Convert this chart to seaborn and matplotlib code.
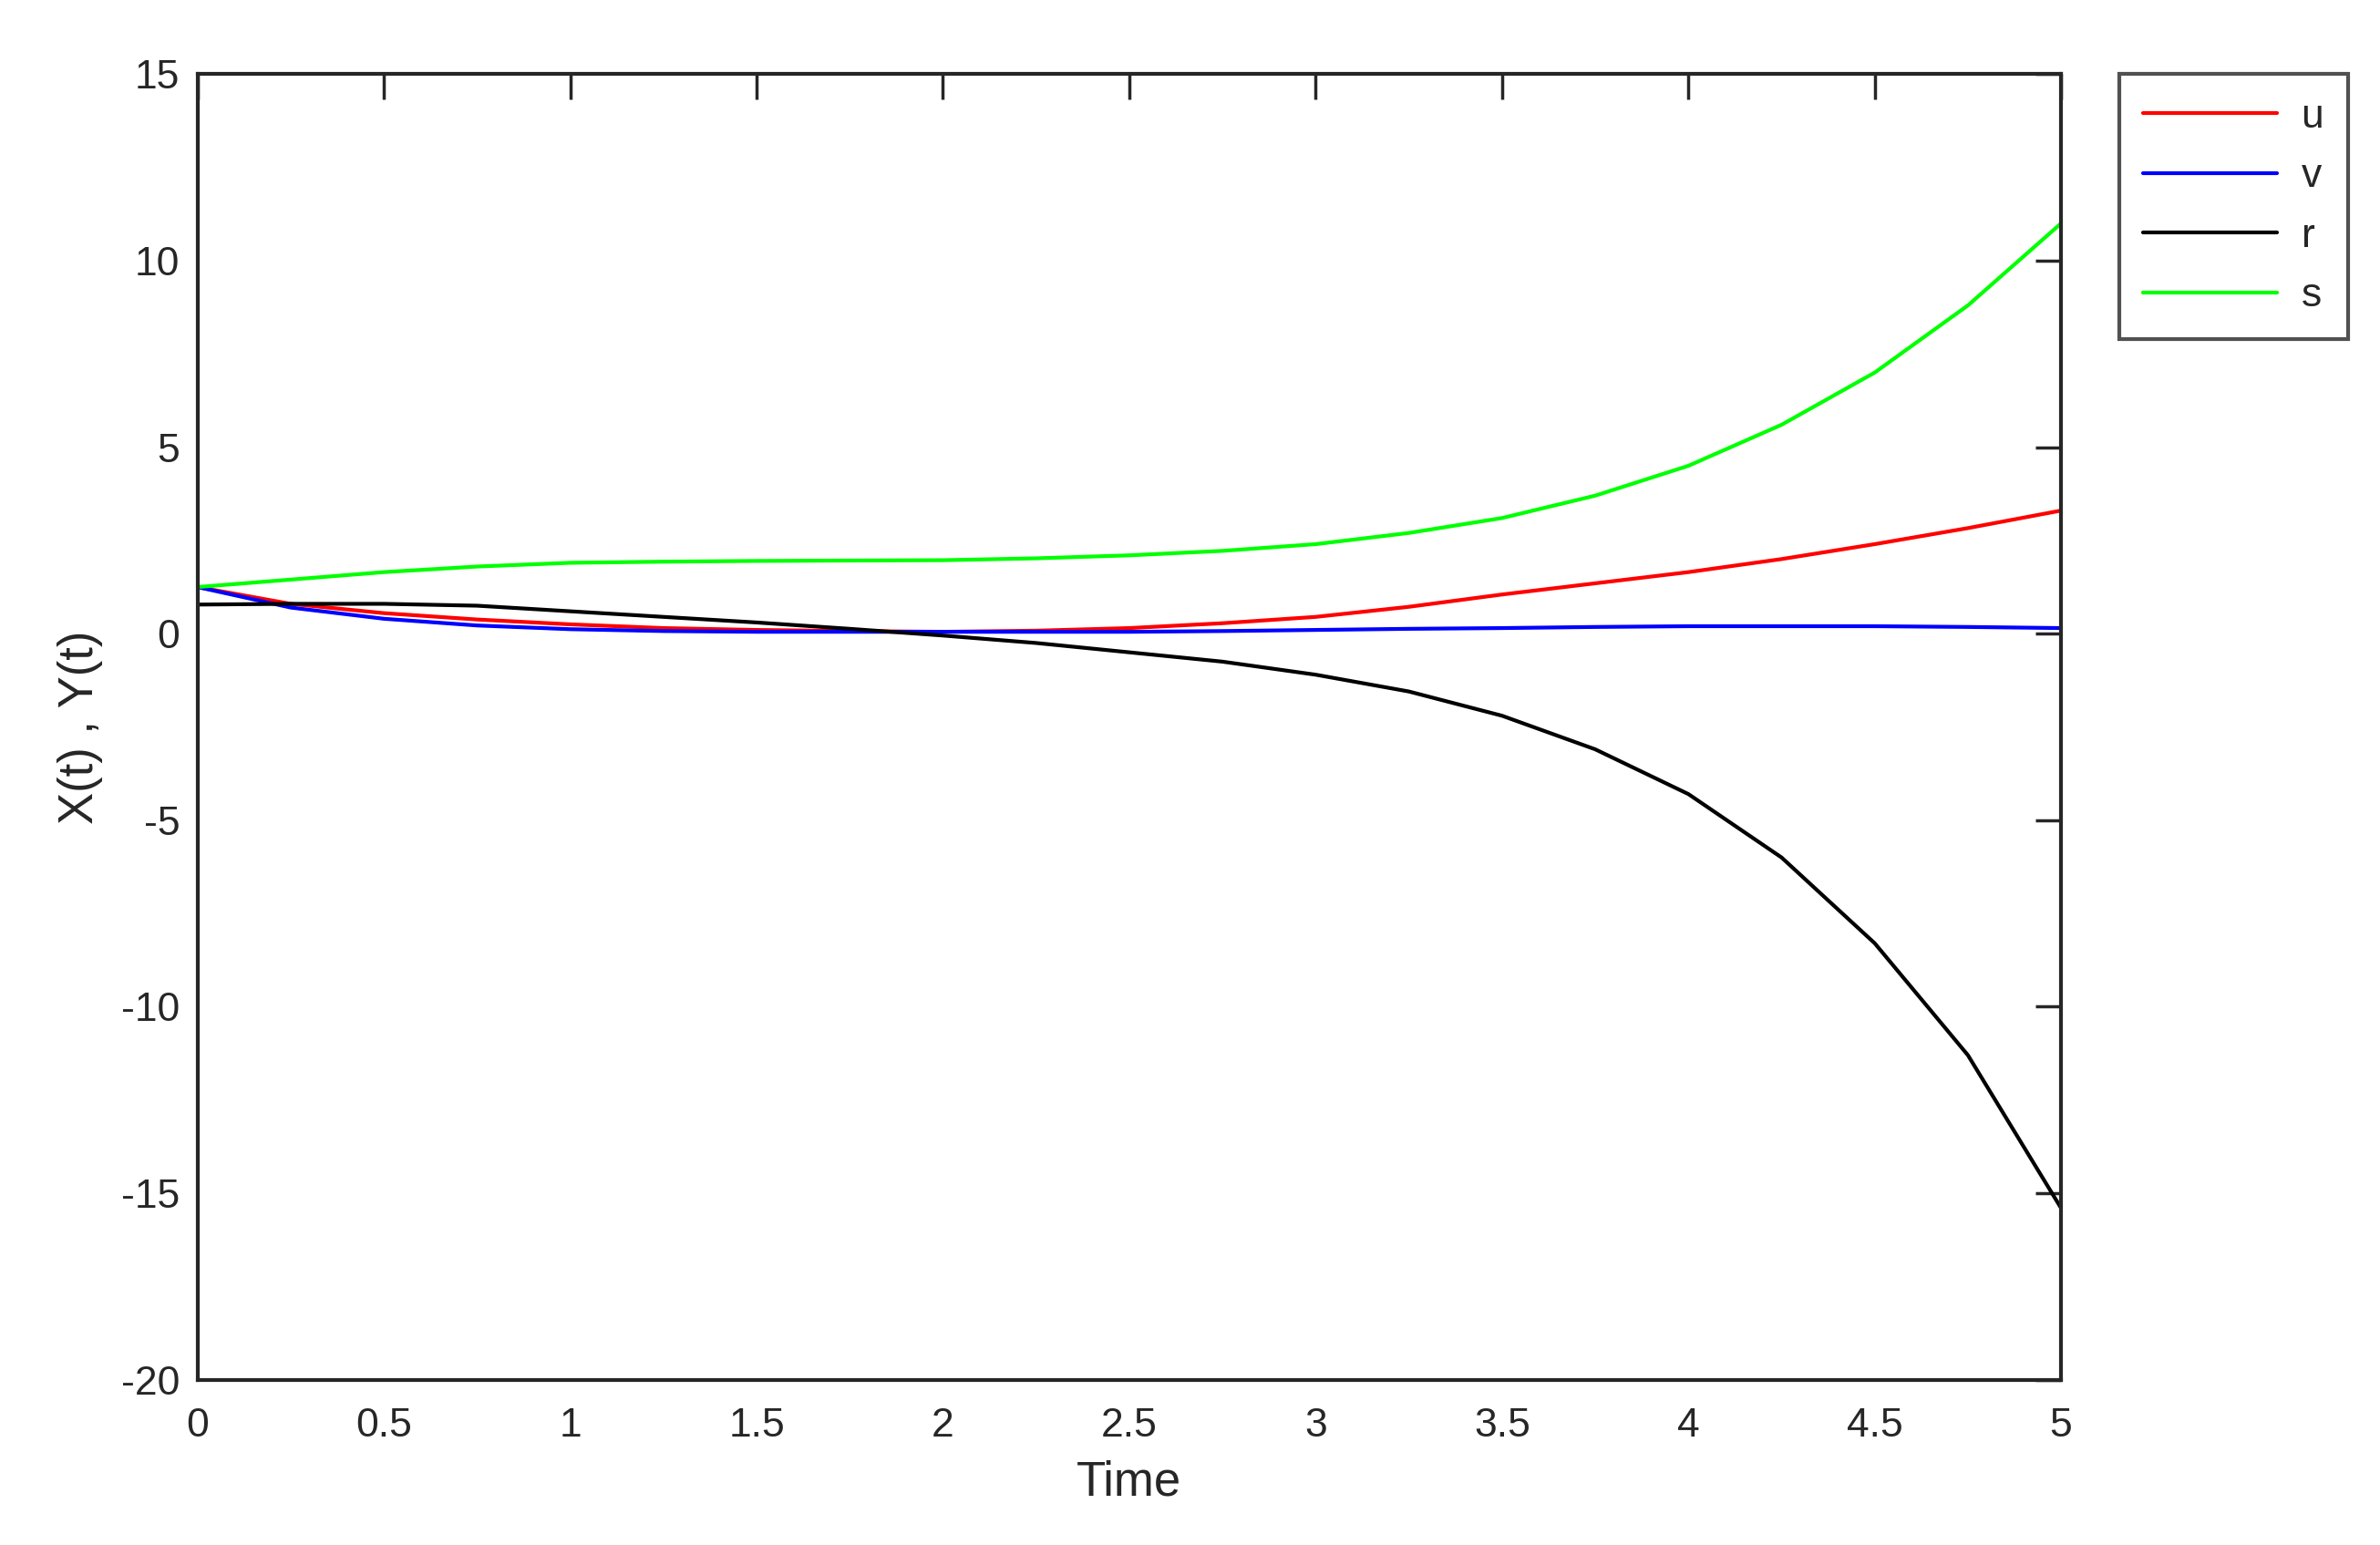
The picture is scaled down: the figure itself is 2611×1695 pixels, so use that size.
import numpy as np
import pandas as pd
import seaborn as sns
import matplotlib
matplotlib.use("Agg")
import matplotlib.pyplot as plt

t = [i * 0.25 for i in range(21)]
u = [1.25,0.8,0.55,0.38,0.25,0.15,0.1,0.07,0.05,0.08,0.15,0.28,0.45,0.72,1.05,1.35,1.65,2.0,2.4,2.83,3.3]
v = [1.25,0.7,0.4,0.22,0.12,0.07,0.05,0.05,0.05,0.05,0.05,0.07,0.1,0.13,0.15,0.18,0.2,0.2,0.2,0.18,0.15]
r = [0.78,0.8,0.8,0.75,0.6,0.45,0.3,0.13,-0.05,-0.25,-0.5,-0.75,-1.1,-1.55,-2.2,-3.1,-4.3,-6.0,-8.3,-11.3,-15.4]
s = [1.25,1.45,1.65,1.8,1.9,1.93,1.95,1.96,1.97,2.02,2.1,2.22,2.4,2.7,3.1,3.7,4.5,5.6,7.0,8.8,11.0]
names = ["u", "v", "r", "s"]
colors = ["#ff0000", "#0000ff", "#000000", "#00ff00"]

sns.set_style("white")
plt.rcParams['font.family'] = ['Liberation Sans', 'DejaVu Sans']
plt.rcParams['axes.unicode_minus'] = False
df = pd.DataFrame({"Time": t, "u": u, "v": v, "r": r, "s": s}).melt("Time", var_name="series", value_name="val")

fig = plt.figure(figsize=(26.11, 16.95), dpi=100)
ax = fig.add_axes([0.083, 0.107, 0.783, 0.845])
sns.lineplot(data=df, x="Time", y="val", hue="series", hue_order=names,
             palette=colors, linewidth=3, ax=ax, legend=True)
ax.set_xlim(0, 5)
ax.set_ylim(-20, 15)
ax.set_xticks(np.arange(0, 5.01, 0.5))
ax.set_xticklabels(["0","0.5","1","1.5","2","2.5","3","3.5","4","4.5","5"])
ax.set_yticks(np.arange(-20, 16, 5))
ax.tick_params(direction="in", top=True, right=True, length=20, width=2.5, labelsize=32, colors="#262626")
ax.tick_params(axis="x", pad=22)
ax.tick_params(axis="y", pad=14)
for sp in ax.spines.values():
    sp.set_linewidth(3)
    sp.set_color("#262626")
ax.set_xlabel("Time", fontsize=38, color="#262626", labelpad=12)
ax.set_ylabel("X(t) , Y(t)", fontsize=38, color="#262626", labelpad=14)
leg = ax.legend(loc="upper left", bbox_to_anchor=(1.031, 1.0), fontsize=32, frameon=True,
                fancybox=False, edgecolor="#262626", markerfirst=True, handlelength=3.3,
                borderaxespad=0, labelspacing=0.55, borderpad=0.6, handletextpad=0.6)
leg.get_frame().set_linewidth(3)
fig.savefig("out.png", dpi=100, facecolor="white")
